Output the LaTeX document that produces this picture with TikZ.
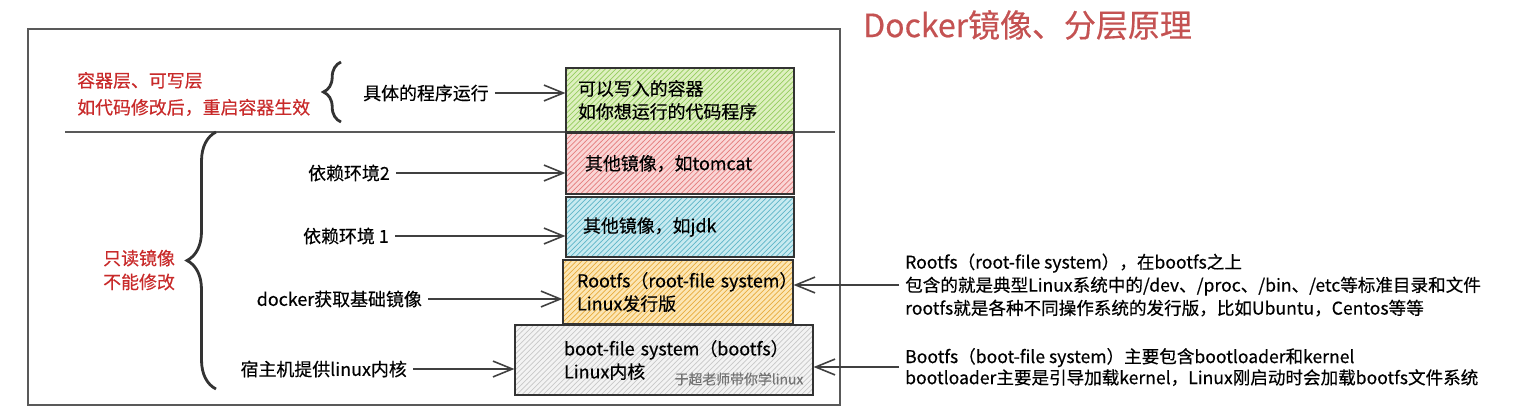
\documentclass[tikz,border=0pt]{standalone}
\usepackage{fontspec}
\setmainfont{Noto Sans CJK SC}[FakeBold=0.4]
\usetikzlibrary{arrows.meta,positioning,patterns,decorations.pathreplacing}

\definecolor{labelred}{RGB}{200,42,42}
\definecolor{titlered}{RGB}{196,82,82}
\definecolor{greenfill}{RGB}{222,240,192}
\definecolor{greenline}{RGB}{150,205,95}
\definecolor{redfill}{RGB}{250,214,214}
\definecolor{redline}{RGB}{228,125,125}
\definecolor{bluefill}{RGB}{200,234,240}
\definecolor{blueline}{RGB}{95,182,200}
\definecolor{yellowfill}{RGB}{252,230,180}
\definecolor{yellowline}{RGB}{232,172,62}
\definecolor{grayfill}{RGB}{243,243,243}
\definecolor{grayline}{RGB}{200,200,200}

\begin{document}
\begin{tikzpicture}[x=0.02cm,y=-0.02cm,
    every node/.style={font=\fontsize{10.2}{13.1}\selectfont,text=black},
    layer/.style={draw=black!80,line width=0.7pt,preaction={fill=#1fill},
      pattern=north east lines,pattern color=#1line,align=left},
    note/.style={anchor=west,align=left},
    redtext/.style={text=labelred},
    link/.style={draw=black!75,line width=0.9pt,-{Straight Barb[length=11pt,width=9pt]}},
    bracket/.style={decorate,decoration={brace,amplitude=#1},line width=1.6pt,draw=black!80}]

  \useasboundingbox (0,0) rectangle (1515,416);

  \draw[black!65,line width=0.8pt] (28,29) rectangle (840,405);
  \draw[black!65,line width=0.8pt] (65,132) -- (835,132);

  \node[note,font=\fontsize{18.2}{21}\selectfont,text=titlered] (title) at (857,25) {Docker镜像、分层原理};

  \node[layer=green,minimum height=1.28cm,text width=4.08cm,inner xsep=0.24cm] (green) at (680,100)
    {\mbox{可以写入的容器}\\\mbox{如你想运行的代码程序}};
  \node[layer=red,minimum height=1.22cm,text width=3.80cm,inner xsep=0.38cm] (red) at (680,163.5)
    {\mbox{其他镜像，如tomcat}};
  \node[layer=blue,minimum height=1.20cm,text width=3.88cm,inner xsep=0.34cm] (blue) at (680,227)
    {\mbox{其他镜像，如jdk}};
  \node[layer=yellow,minimum height=1.28cm,text width=4.04cm,inner xsep=0.28cm] (yellow) at (678,292)
    {\mbox{Rootfs（root-file system）}\\\mbox{Linux发行版}};
  \node[layer=gray,minimum height=1.40cm,text width=4.00cm,inner xsep=0.98cm] (gray) at (664,360)
    {\mbox{boot-file system（bootfs）}\\\mbox{Linux内核}};
  \node[inner sep=0,font=\fontsize{7.9}{9}\selectfont,text=black!55] (mark) at (739,379) {于超老师带你学linux};

  \node[note,redtext,font=\fontsize{10.2}{15.3}\selectfont] (writable) at (71,94)
    {容器层、可写层\\如代码修改后，重启容器生效};
  \node[note,redtext,font=\fontsize{10.2}{13.6}\selectfont] (readonly) at (97,270) {只读镜像\\不能修改};

  \node[note] (running) at (357,93) {具体的程序运行};
  \node[anchor=east] (dep2) at (396,173) {依赖环境2};
  \node[anchor=east] (dep1) at (395,236) {依赖环境 1};
  \node[anchor=east] (base) at (428,299) {docker获取基础镜像};
  \node[anchor=east] (kernel) at (413,369) {宿主机提供linux内核};

  \node[note,font=\fontsize{10}{13.1}\selectfont] (rootnote) at (899,285)
    {Rootfs（root-file system），在bootfs之上\\
     包含的就是典型Linux系统中的/dev、/proc、/bin、/etc等标准目录和文件\\
     rootfs就是各种不同操作系统的发行版，比如Ubuntu，Centos等等};
  \node[note,font=\fontsize{10}{12}\selectfont] (bootnote) at (899,367)
    {Bootfs（boot-file system）主要包含bootloader和kernel\\
     bootloader主要是引导加载kernel，Linux刚启动时会加载bootfs文件系统};

  \draw[bracket=10pt] (341,122) -- (341,62);
  \draw[bracket=0.58cm] (216,389) -- (216,132);

  \draw[link] (running.east) -- (running.east -| green.west);
  \draw[link] (dep2.east) -- (dep2.east -| red.west);
  \draw[link] (dep1.east) -- (dep1.east -| blue.west);
  \draw[link] (base.east) -- (base.east -| yellow.west);
  \draw[link] (kernel.east) -- (kernel.east -| gray.west);
  \draw[link] (rootnote.west) -- (rootnote.west -| yellow.east);
  \draw[link] (bootnote.west) -- (bootnote.west -| gray.east);
\end{tikzpicture}
\end{document}
